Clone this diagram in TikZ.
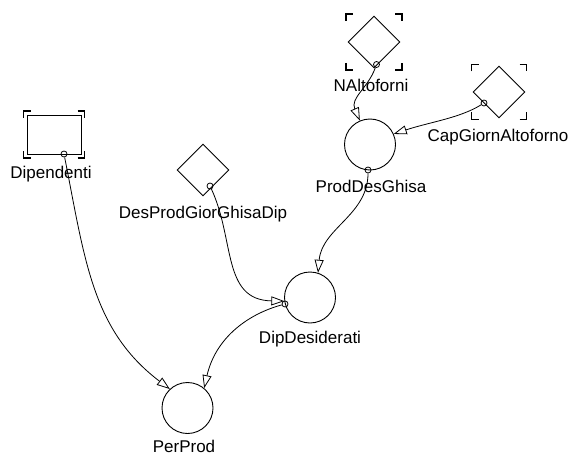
\documentclass[tikz,border=0pt]{standalone}
\usepackage{fontspec}
\setmainfont{Liberation Sans}
\usetikzlibrary{shapes.geometric,arrows.meta}
\newcommand\crnmarks[3]{%
  \begin{scope}[shift={(#1)}]
    \draw[brk] (-#2,-#3+7) -- (-#2,-#3) -- (-#2+7,-#3);
    \draw[brk] (#2-7,-#3) -- (#2,-#3) -- (#2,-#3+7);
    \draw[brk] (-#2,#3-7) -- (-#2,#3) -- (-#2+7,#3);
    \draw[brk] (#2-7,#3) -- (#2,#3) -- (#2,#3-7);
  \end{scope}}
\begin{document}
\begin{tikzpicture}[x=1pt,y=-1pt,
  every node/.style={inner sep=0pt},
  line width=0.9pt,
  varc/.style={circle,draw,minimum size=51pt},
  vdia/.style={diamond,draw,minimum size=52pt,aspect=1},
  vbox/.style={rectangle,draw,minimum width=54pt,minimum height=39pt},
  port/.style={circle,draw,minimum size=6pt,line width=0.8pt},
  lbl/.style={anchor=base,font=\fontsize{17}{20}\selectfont},
  link/.style={line width=0.8pt,-{Triangle[open,length=13pt,width=9pt]}},
  brk/.style={line width=1.3pt},
]
\useasboundingbox (0,0) rectangle (569,457);

% stock-like boxes / auxiliaries
\node[vbox] (dip) at (54,134.5) {};
\crnmarks{dip.center}{30.5}{23.5}
\node[vdia] (nalt) at (374,42) {};
\crnmarks{nalt.center}{28}{28}
\node[vdia] (cap) at (499,92) {};
\crnmarks{cap.center}{27.5}{27.5}
\node[vdia] (des) at (203,170) {};

% circles
\node[varc] (pds) at (370,144.5) {};
\node[varc] (dd) at (310,297.5) {};
\node[varc] (pp) at (187.5,408) {};

% labels
\node[lbl] (l-dip) at (51,178) {Dipendenti};
\node[lbl] (l-nalt) at (371,92) {NAltoforni};
\node[lbl] (l-cap) at (498,142) {CapGiornAltoforno};
\node[lbl] (l-des) at (203,218) {DesProdGiorGhisaDip};
\node[lbl] (l-pds) at (371,192) {ProdDesGhisa};
\node[lbl] (l-dd) at (310,343) {DipDesiderati};
\node[lbl] (l-pp) at (184,452) {PerProd};

% ports
\node[port] (p-dip) at (64,154) {};
\node[port] (p-nalt) at (376.5,64.5) {};
\node[port] (p-cap) at (484,103) {};
\node[port] (p-des) at (210,186) {};
\node[port] (p-pds) at (368,170) {};
\node[port] (p-dd) at (285,304) {};

% connectors
\draw[link] (p-nalt) .. controls (368,88) and (350,98) .. (pds.113);
\draw[link] (p-cap) .. controls (460,118) and (430,122) .. (pds.24);
\draw[link] (p-pds) .. controls (368,215) and (322,228) .. (dd.72);
\draw[link] (p-des) .. controls (235,240) and (222,300) .. (dd.188);
\draw[link] (p-dd) .. controls (245,315) and (215,340) .. (pp.50);
\draw[link] (p-dip) .. controls (85,260) and (92,330) .. (pp.133);
\end{tikzpicture}
\end{document}
